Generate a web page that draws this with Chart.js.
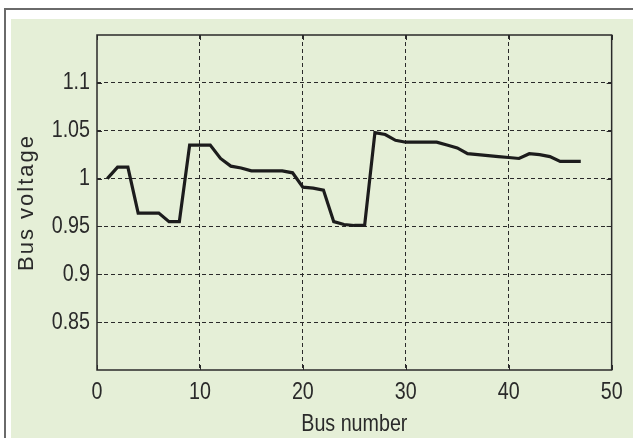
<!DOCTYPE html>
<html>
<head>
<meta charset="utf-8">
<script src="https://cdn.jsdelivr.net/npm/chart.js@4/dist/chart.umd.min.js"></script>
<style>
  html, body { margin: 0; padding: 0; background: #ffffff; }
  body { width: 633px; height: 438px; position: relative; overflow: hidden; }
  #frame { position: absolute; left: 4px; top: 8px; width: 700px; height: 500px;
           border: 2px solid #6a6a6a; background: #ffffff; }
  #panel { position: absolute; left: 11px; top: 19px; right: 0; bottom: 0; background: #e5efd7; }
  #wrap { position: absolute; left: 0; top: 0; width: 633px; height: 438px; }
</style>
</head>
<body>
<div id="frame"></div>
<div id="panel"></div>
<div id="wrap"><canvas id="chart" width="633" height="438"></canvas></div>
<script>
// Bus voltage profile along the feeder
const busNumbers = [1, 2, 3, 4, 5, 6, 7, 8, 9, 10,
                    11, 12, 13, 14, 15, 16, 17, 18, 19, 20,
                    21, 22, 23, 24, 25, 26, 27, 28, 29, 30,
                    31, 32, 33, 34, 35, 36, 37, 38, 39, 40,
                    41, 42, 43, 44, 45, 46, 47];
const busVoltage = [1.000, 1.012, 1.012, 0.964, 0.964, 0.964, 0.955, 0.955, 1.035, 1.035,
                    1.035, 1.021, 1.013, 1.011, 1.008, 1.008, 1.008, 1.008, 1.006, 0.991,
                    0.990, 0.988, 0.955, 0.952, 0.951, 0.951, 1.048, 1.046, 1.040, 1.038,
                    1.038, 1.038, 1.038, 1.035, 1.032, 1.026, 1.025, 1.024, 1.023, 1.022,
                    1.021, 1.026, 1.025, 1.023, 1.018, 1.018, 1.018];
const xTicks = [0, 10, 20, 30, 40, 50];
const yTicks = [0.85, 0.9, 0.95, 1, 1.05, 1.1];
const xRange = [0, 50];
const yRange = [0.8, 1.15];

const ink = '#2a2a2a';
// Tick labels and the x title use a horizontally condensed sans (narrow style)
const narrowFont = { family: "'Liberation Sans', Arial, sans-serif", size: 24 };
const ylabelFont = { family: "'Liberation Sans', Arial, sans-serif", size: 22 };
const condense = 0.82;

function condensedText(ctx) {
  if (ctx.__condensed) return;
  ctx.__condensed = true;
  const fill = ctx.fillText;
  ctx.fillText = function (text, x, y, maxWidth) {
    if (/\b24px/.test(this.font)) {
      this.save();
      this.translate(x, y);
      this.scale(condense, 1);
      fill.call(this, text, 0, 0);
      this.restore();
      return;
    }
    if (/\b22px/.test(this.font)) {
      const prev = this.letterSpacing;
      this.letterSpacing = '2px';
      fill.call(this, text, x, y);
      this.letterSpacing = prev;
      return;
    }
    return maxWidth === undefined ? fill.call(this, text, x, y) : fill.call(this, text, x, y, maxWidth);
  };
}

// Box around the axes plus short inward tick marks on all four sides
const boxPlugin = {
  id: 'axesBox',
  beforeDraw(chart) { condensedText(chart.ctx); },
  afterDatasetsDraw(chart) {
    const { ctx, chartArea: a, scales } = chart;
    ctx.save();
    ctx.strokeStyle = ink;
    ctx.lineWidth = 1.5;
    ctx.setLineDash([]);
    ctx.strokeRect(a.left, a.top, a.right - a.left, a.bottom - a.top);
    ctx.lineWidth = 1;
    const len = 5;
    xTicks.forEach(v => {
      const px = Math.round(scales.x.getPixelForValue(v)) + 0.5;
      ctx.beginPath();
      ctx.moveTo(px, a.bottom); ctx.lineTo(px, a.bottom - len);
      ctx.moveTo(px, a.top); ctx.lineTo(px, a.top + len);
      ctx.stroke();
    });
    yTicks.forEach(v => {
      const py = Math.round(scales.y.getPixelForValue(v)) + 0.5;
      ctx.beginPath();
      ctx.moveTo(a.left, py); ctx.lineTo(a.left + len, py);
      ctx.moveTo(a.right, py); ctx.lineTo(a.right - len, py);
      ctx.stroke();
    });
    ctx.restore();
  }
};

new Chart(document.getElementById('chart'), {
  type: 'line',
  data: {
    datasets: [{
      data: busNumbers.map((b, i) => ({ x: b, y: busVoltage[i] })),
      borderColor: '#1c1c1c',
      borderWidth: 3.2,
      pointRadius: 0,
      tension: 0,
      fill: false
    }]
  },
  options: {
    responsive: false,
    animation: false,
    events: [],
    layout: { padding: { top: 35, right: 20, left: 0, bottom: 0 } },
    plugins: { legend: { display: false }, tooltip: { enabled: false } },
    scales: {
      x: {
        type: 'linear',
        min: xRange[0], max: xRange[1],
        afterFit(s) { s.height = 68; },
        afterBuildTicks(s) { s.ticks = xTicks.map(v => ({ value: v })); },
        ticks: { color: ink, font: narrowFont, padding: 8, maxRotation: 0, autoSkip: false,
                 callback: v => String(v) },
        grid: {
          color: ctx => (ctx.tick && (ctx.tick.value === xRange[0] || ctx.tick.value === xRange[1])) ? 'rgba(0,0,0,0)' : ink,
          lineWidth: 1, drawTicks: false
        },
        border: { display: false, dash: [4, 3] },
        title: { display: true, text: 'Bus number', color: ink, font: narrowFont, padding: { top: 0, bottom: -1 } }
      },
      y: {
        type: 'linear',
        min: yRange[0], max: yRange[1],
        afterFit(s) { s.width = 97; },
        afterBuildTicks(s) { s.ticks = yTicks.map(v => ({ value: v })); },
        ticks: { color: ink, font: narrowFont, padding: 7, autoSkip: false,
                 callback: v => String(v) },
        grid: { color: ink, lineWidth: 1, drawTicks: false },
        border: { display: false, dash: [4, 3] },
        title: { display: true, text: 'Bus voltage', color: ink, font: ylabelFont,
                 padding: { top: 14, bottom: 0 } }
      }
    }
  },
  plugins: [boxPlugin]
});
</script>
</body>
</html>
